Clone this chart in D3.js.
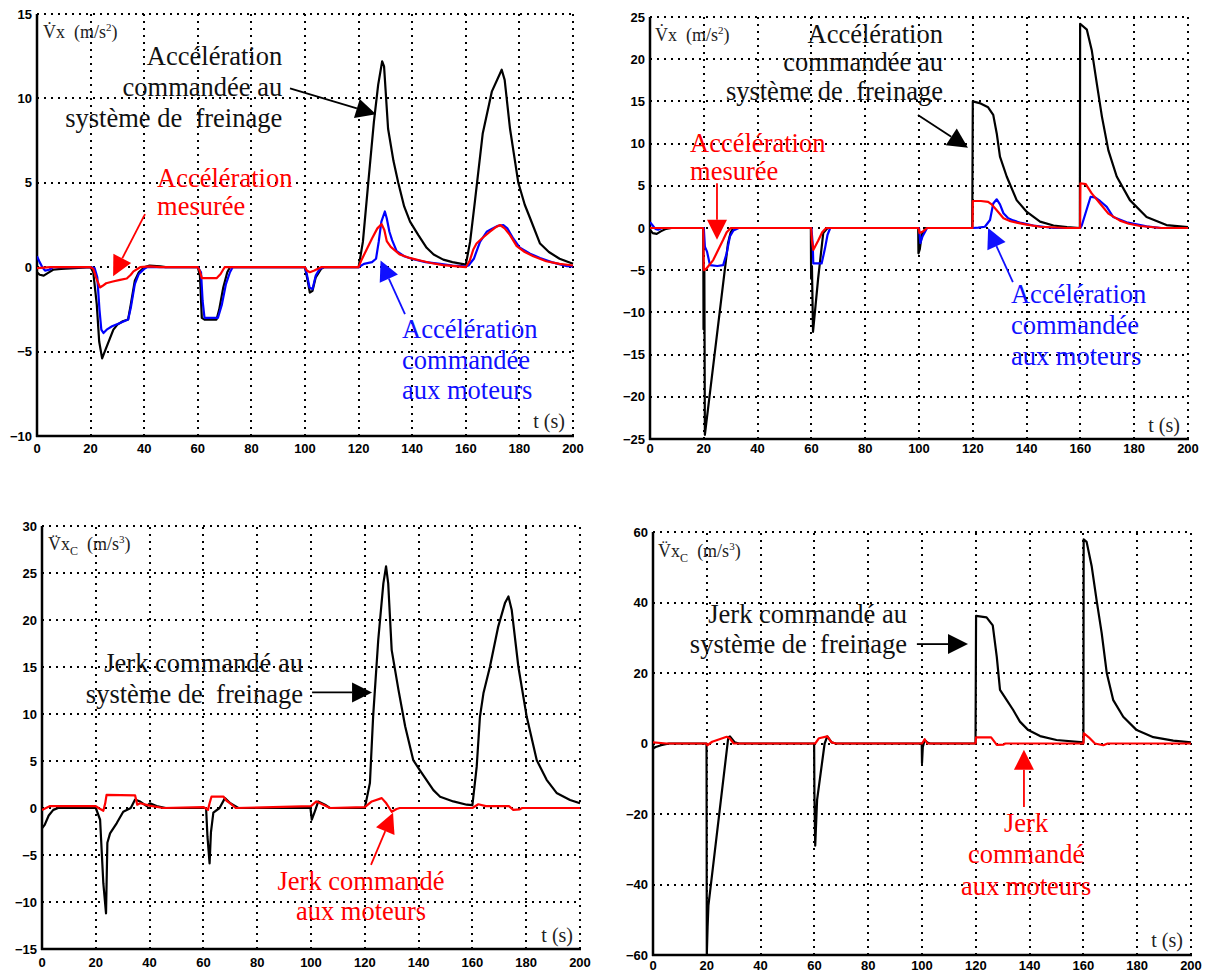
<!DOCTYPE html>
<html><head><meta charset="utf-8">
<script src="https://cdn.jsdelivr.net/npm/d3@7"></script>
<style>
body{margin:0;background:#fff} svg{display:block}
.serif{font-family:"Liberation Serif","Times New Roman","DejaVu Serif",serif;}
.tick{font-family:"Liberation Sans",Arial,"DejaVu Sans",sans-serif;font-weight:bold;font-size:13px;}
</style>
</head><body>
<svg id="c" width="1207" height="974"></svg>
<script>
// ---------------- DATA ----------------
const xTicks = [0,20,40,60,80,100,120,140,160,180,200];
const p1YTicks = [-10,-5,0,5,10,15];
const p2YTicks = [-25,-20,-15,-10,-5,0,5,10,15,20,25];
const p3YTicks = [-15,-10,-5,0,5,10,15,20,25,30];
const p4YTicks = [-60,-40,-20,0,20,40,60];

// Panel 1 : acceleration (m/s²)
const p1Black = [[0,-0.3],[1,-0.45],[2.5,-0.5],[4,-0.35],[6,-0.15],[9,-0.1],[14,-0.05],[20,0],[21,-0.3],[22.3,-2.2],[23.2,-4.4],[24.3,-5.4],[26,-4.7],[28.5,-3.7],[30,-3.4],[32,-3.2],[34,-3.1],[35,-2.2],[36.5,-0.8],[38,-0.3],[40,0],[42,0.1],[46,0.05],[48,0],[60,0],[60.8,-0.5],[61.5,-3.0],[62.5,-3.1],[67,-3.1],[68,-2.5],[69.5,-1.2],[71,-0.3],[72,0],[100,0],[101,-0.8],[101.8,-1.5],[102.8,-1.4],[104,-0.6],[106,-0.1],[107,0],[120,0],[121.6,1.5],[123.6,5],[125.7,8.6],[127.3,10.8],[128.8,12.2],[129.5,11.9],[131,8.2],[133,6.3],[134.8,5],[137,3.6],[139.2,2.7],[142.3,1.9],[145.4,1.15],[148,0.75],[151.6,0.45],[155,0.3],[160,0.15],[161.6,1.5],[163.4,3.9],[166.3,7.9],[169.7,10.4],[173.4,11.7],[174.5,11.1],[176.5,8.2],[179.6,5],[182,3.7],[184,2.9],[187.7,1.4],[191,0.9],[195,0.5],[200,0.2]];
const p1Blue = [[0,0.65],[1,0.3],[2,0],[3,-0.2],[4.5,-0.15],[6,0],[20,0],[21.5,-0.05],[22.5,-0.6],[23.3,-2.5],[24,-3.7],[24.8,-3.9],[26,-3.7],[28,-3.5],[31,-3.3],[34,-3.1],[35,-2.4],[36.5,-1.0],[38,-0.4],[40,-0.1],[41,0],[60,0],[61.2,-0.3],[61.8,-2],[62.5,-3.0],[67.5,-3.0],[69,-2.2],[70.5,-1.0],[72,-0.3],[73,0],[100,0],[100.8,-0.5],[101.7,-1.2],[102.8,-1.3],[104,-0.5],[105.5,-0.1],[107,0],[120,0],[122,0.2],[125,0.3],[126.5,0.5],[127.5,1.5],[128.5,2.7],[129.8,3.3],[130.5,2.9],[131.5,2.1],[132.5,1.6],[134.2,0.95],[137,0.65],[140.4,0.47],[145,0.3],[150.4,0.2],[155,0.1],[160,0.05],[161,0.1],[163,0.5],[165.3,1.5],[167.8,2.1],[170,2.3],[172,2.45],[174,2.5],[175.5,2.3],[177.7,1.7],[180.2,1.15],[184,0.8],[187.7,0.55],[192,0.3],[197.7,0.06],[200,0.05]];
const p1Red = [[0,-0.05],[5,0],[20,0],[21,-0.1],[22,-0.6],[23.5,-1.2],[24.5,-1.1],[25.8,-0.95],[28.3,-0.85],[31,-0.75],[33.5,-0.67],[35,-0.45],[36,-0.25],[38.5,0],[42,0.05],[46,0],[60,0],[60.7,-0.2],[61.5,-0.65],[67,-0.65],[68.5,-0.4],[70,0],[100,0],[100.7,-0.2],[101.8,-0.3],[103.5,-0.2],[106,0],[120,0],[121,0.4],[123,1.05],[125,1.7],[127,2.3],[128.6,2.55],[129.6,2.2],[130.5,1.55],[132,1.2],[135.4,0.75],[139,0.55],[143,0.4],[147,0.25],[151.5,0.12],[160,0],[161.5,0.4],[162.8,1.05],[164,1.4],[166,1.7],[169,2.1],[171,2.35],[172.8,2.5],[174.5,2.3],[176.5,1.9],[179,1.25],[182,0.9],[185.2,0.65],[190,0.35],[195,0.2],[200,0.1]];

// Panel 2 : acceleration (m/s²)
const p2Black = [[0,-0.2],[1,-0.6],[2.5,-0.7],[4,-0.4],[6,-0.1],[8,0],[19.8,0],[19.9,-12],[20.1,-12],[20.2,-5],[20.4,-24.5],[29,-1.8],[30,-0.5],[31,0],[59.8,0],[59.9,-6],[60.2,-4.5],[60.6,-12.3],[62.5,-6],[64.4,-0.6],[66,0],[99.7,0],[99.8,-3],[100.3,-2.5],[101,-0.8],[102.5,0],[119.8,0],[120,15],[122.5,14.8],[125.7,14.3],[127.6,13.4],[128.9,11.2],[130.1,8.45],[132.6,6.1],[136.3,3.3],[140.1,1.9],[145,0.75],[150,0.3],[155,0.1],[159.8,0],[159.9,24.2],[162.4,23.5],[164.2,21.1],[166.1,17.1],[168,13.2],[170.4,9.2],[173.5,6.1],[178.4,3.3],[184.6,1.3],[192,0.35],[200,0.1]];
const p2Blue = [[0,0.7],[1,0.3],[2,-0.1],[3,-0.2],[4.5,0],[20,0],[20.4,-2.2],[21.2,-2.8],[22.3,-4.4],[25,-4.5],[27.2,-4.4],[28.5,-3],[29.7,-1.0],[31,-0.3],[33,0],[60,0],[60.5,-2],[60.7,-4.2],[63.8,-4.2],[65,-2.5],[66,-0.8],[67,0],[100,0],[100.5,-1.8],[101.3,-1.0],[103,0],[120,0],[122,0.05],[124.5,0.15],[126.4,0.95],[127.6,2.9],[128.9,3.4],[130.1,2.8],[131.4,1.75],[133,1.2],[135,0.9],[138,0.6],[142.5,0.3],[150,0],[160,0],[160.5,0.3],[161.9,1.75],[163.8,3.7],[165.6,3.6],[167.3,3.2],[169.8,2.5],[172.2,1.3],[177.2,0.67],[184.6,0.2],[190,0],[200,0]];
const p2Red = [[0,0],[19.8,0],[19.9,-3],[20,-5],[21,-4.8],[23.5,-3.8],[27.2,-1.4],[28.5,-0.5],[30,0],[59.9,0],[60.2,-1.5],[60.7,-2.6],[62.5,-1.5],[64,-0.5],[65.5,0],[99.8,0],[100.2,-0.6],[101.5,-0.4],[103,0],[119.9,0],[120,3.2],[123,3.2],[125.7,3.1],[127,2.8],[128.9,2.1],[131.4,1.15],[134,0.8],[136.3,0.63],[140,0.4],[145,0.15],[155,0],[159.9,0],[160,5.3],[162,5.2],[164.2,4.1],[167.3,2.9],[170.4,1.7],[174.7,0.87],[178,0.5],[182.2,0.24],[190,0],[200,0]];

// Panel 3 : jerk (m/s³)
const p3Black = [[0,-2.15],[1,-1.8],[2.5,-0.8],[4.2,-0.2],[6,0],[20,0],[21.6,-1.25],[22.8,-8],[23.8,-11.2],[24.3,-3.7],[25.3,-2.7],[27.8,-1.6],[30.2,-0.4],[33,0],[34.6,0.9],[36.4,0.7],[38.9,0.2],[40.1,0.5],[42.6,0.2],[46,0],[61,0],[61.5,-3],[62.3,-5.9],[62.8,-2.6],[63.7,-0.5],[66,0],[68,1.05],[70,0.5],[73,0],[99.8,0],[100.3,-1.25],[101.5,-0.3],[102.7,0.7],[105.2,0.35],[107,0],[120,0],[121.9,2.65],[123.1,9.75],[125,17.9],[126.9,23.9],[127.9,25.7],[128.7,23.9],[130,16.8],[132.5,12.6],[135,8.7],[138,5.1],[140.5,4.0],[145.5,1.9],[148,1.2],[152.9,0.7],[157.9,0.35],[160,0.3],[161.6,4.4],[162.8,9.7],[164.1,12.2],[166.5,15],[169.6,19.3],[172.1,21.8],[173.4,22.5],[174.6,21.1],[177.1,15],[180.2,9.7],[183.9,5.1],[187.6,3.0],[191.3,1.6],[196.3,0.85],[200,0.5]];
const p3Red = [[0,-0.2],[1.5,0],[3,0.2],[20,0.2],[21,0],[22.8,-0.3],[23.5,0.5],[24,1.4],[34.6,1.35],[35.4,0.35],[36.5,0.5],[40,0.25],[45,0],[60,0.1],[61.7,-0.2],[62.3,0.5],[63,1.2],[67.5,1.2],[68.5,0.8],[70,0.5],[72,0],[100,0.2],[102,0.7],[105,0.3],[107,0],[120,0.1],[122.6,0.7],[126.3,1.05],[128,0.5],[130,-0.4],[131.8,-0.1],[133,0],[160,0],[162.2,0.4],[165,0.2],[173.6,0.2],[175.2,-0.2],[177.6,-0.15],[178.5,0],[200,0]];

// Panel 4 : jerk (m/s³)
const p4Black = [[0,-1.4],[1,-1.0],[3,-0.5],[6,0],[19.9,0],[20,-60],[20.3,-52],[20.6,-46],[28,1.8],[28.6,2],[30.4,0.3],[32,0],[59.9,0],[60,-14],[60.3,-29],[61,-16],[63.8,0],[64.8,2],[66.4,0.3],[68,0],[99.9,0],[100,-5.6],[100.3,-1],[101,1],[102,0.3],[103,0],[119.9,0],[120.1,36.2],[124,35.8],[126.3,33.5],[127.8,24.6],[129,15.2],[131.5,12.3],[133.9,9.5],[136.4,6.2],[139.5,3.8],[143.9,2.1],[150,1],[160,0.3],[160.1,57.9],[161.2,57.2],[163.1,50.2],[164.9,40.7],[166.8,31.3],[168.7,19.9],[171.1,12.3],[174.8,7.6],[179.8,3.8],[186,1.8],[193.4,0.8],[200,0.3]];
const p4Red = [[0,0.3],[5,0],[19.9,0],[20.2,-0.5],[22,0.5],[27.4,1.9],[28.5,1.5],[30,0],[60.3,0],[61.7,1.5],[64.8,2],[66.4,0.3],[68,0],[100,0],[101,1.2],[102,0],[119.9,0],[120.1,1.75],[125.7,1.75],[127.8,-0.4],[130.3,-0.3],[131,0],[160,0],[160.2,2.9],[162,1.75],[164.3,0],[167.4,-0.5],[169,0],[200,0]];

// Text labels
const accBrakeLines = ["Accélération","commandée au","système de\u00a0 freinage"];
const accMeasLines = ["Accélération","mesurée"];
const accMotorLines = ["Accélération","commandée","aux moteurs"];
const jerkBrakeLines = ["Jerk commandé au","système de\u00a0 freinage"];
const jerkMotor3Lines = ["Jerk commandé","aux moteurs"];
const jerkMotor4Lines = ["Jerk","commandé","aux moteurs"];

// ---------------- DRAW ----------------
const BLACK = "#000", RED = "#ff0000", BLUE = "#0000ff";
const svg = d3.select("#c");

const panels = [
  {box:{l:37,r:573,t:14,b:436}, yDomain:[-10,15], yTicks:p1YTicks, xLabDy:17,
   series:[[p1Black,BLACK],[p1Blue,BLUE],[p1Red,RED]], jerk:false, ylab:[2.2,13.57], tlab:[197,-9.54],
   notes:[
     {lines:accBrakeLines, color:"#111", anchor:"end", at:[91.5,12.0], lh:31, from:[94.4,10.6], to:[126.5,9.06]},
     {lines:accMeasLines, color:RED, anchor:"start", at:[44.8,4.74], lh:28, from:[40.3,3.14], to:[28.4,-0.53]},
     {lines:accMotorLines, color:"#1010ff", anchor:"start", at:[136.2,-4.2], lh:30.5, from:[137.3,-2.78], to:[128.2,0.4]}
   ]},
  {box:{l:650,r:1188,t:17,b:439}, yDomain:[-25,25], yTicks:p2YTicks, xLabDy:14,
   series:[[p2Black,BLACK],[p2Blue,BLUE],[p2Red,RED]], jerk:false, ylab:[1.9,22.2], tlab:[197,-24.2],
   notes:[
     {lines:accBrakeLines, color:"#111", anchor:"end", at:[108.9,21.9], lh:28.3, from:[99.6,13.4], to:[118.2,9.5]},
     {lines:accMeasLines, color:RED, anchor:"start", at:[14.9,9.0], lh:28, from:[24.9,5.3], to:[24.9,-1.4]},
     {lines:accMotorLines, color:"#1010ff", anchor:"start", at:[134.2,-8.9], lh:31, from:[134.9,-6.4], to:[125.7,0]}
   ]},
  {box:{l:42,r:580,t:526,b:949}, yDomain:[-15,30], yTicks:p3YTicks, xLabDy:18,
   series:[[p3Black,BLACK],[p3Red,RED]], jerk:true, ylab:[2.2,27.4], tlab:[197.4,-14.3],
   notes:[
     {lines:jerkBrakeLines, color:"#111", anchor:"end", at:[97,14.5], lh:31, from:[100.4,12.3], to:[122.7,12.3]},
     {lines:jerkMotor3Lines, color:RED, anchor:"middle", at:[118.6,-8.7], lh:30, from:[122.3,-6.06], to:[130.5,-0.5]}
   ]},
  {box:{l:653,r:1191,t:532,b:955}, yDomain:[-60,60], yTicks:p4YTicks, xLabDy:15,
   series:[[p4Black,BLACK],[p4Red,RED]], jerk:true, ylab:[1.9,52.9], tlab:[197,-57.7],
   notes:[
     {lines:jerkBrakeLines, color:"#111", anchor:"end", at:[94.4,34.2], lh:30, from:[98.1,28.2], to:[117.1,28.2]},
     {lines:jerkMotor4Lines, color:RED, anchor:"middle", at:[138.7,-25.1], lh:31.5, from:[137.9,-18], to:[137.9,-1.8]}
   ]}
];

const fmt = v => v < 0 ? "\u2212" + Math.abs(v) : String(v);

panels.forEach((p, i) => {
  const b = p.box;
  const x = d3.scaleLinear().domain([0,200]).range([b.l, b.r]);
  const y = d3.scaleLinear().domain(p.yDomain).range([b.b, b.t]);
  const g = svg.append("g");

  g.append("clipPath").attr("id","clip"+i).append("rect")
    .attr("x",b.l).attr("y",b.t-1).attr("width",b.r-b.l+1).attr("height",b.b-b.t+2);

  // dotted grid (snapped to whole pixels for crisp dots)
  const grid = g.append("g").attr("stroke","#000").attr("stroke-width",2)
    .attr("stroke-dasharray","2,5").attr("shape-rendering","crispEdges");
  xTicks.filter(t => t !== 0).forEach(t => {
    const xx = Math.round(x(t));
    grid.append("line").attr("x1",xx).attr("x2",xx).attr("y1",b.b).attr("y2",b.t);
  });
  p.yTicks.filter(v => v !== p.yDomain[0]).forEach(v => {
    const yy = Math.round(y(v));
    grid.append("line").attr("x1",b.l).attr("x2",b.r).attr("y1",yy).attr("y2",yy);
  });

  // solid left & bottom axes
  g.append("line").attr("x1",b.l).attr("x2",b.l).attr("y1",b.t).attr("y2",b.b+1)
    .attr("stroke","#000").attr("stroke-width",2.5);
  g.append("line").attr("x1",b.l-1).attr("x2",b.r+1).attr("y1",b.b).attr("y2",b.b)
    .attr("stroke","#000").attr("stroke-width",2.5);

  // tick labels
  g.append("g").selectAll("text").data(p.yTicks).join("text").attr("class","tick")
    .attr("x", b.l - 5).attr("y", d => y(d) + 4.5)
    .attr("text-anchor","end").text(fmt);
  g.append("g").selectAll("text").data(xTicks).join("text").attr("class","tick")
    .attr("x", d => x(d)).attr("y", b.b + p.xLabDy)
    .attr("text-anchor","middle").text(fmt);

  // series
  const line = d3.line().x(d => x(d[0])).y(d => y(d[1]));
  const sg = g.append("g").attr("clip-path","url(#clip"+i+")");
  p.series.forEach(([data, col]) => {
    sg.append("path").datum(data).attr("d", line).attr("fill","none")
      .attr("stroke", col).attr("stroke-width", 2.2).attr("stroke-linejoin","round");
  });

  // y label
  const yl = g.append("text").attr("class","serif").attr("x", x(p.ylab[0])).attr("y", y(p.ylab[1]))
    .style("font-size","18px").attr("fill","#222");
  if (!p.jerk) {
    yl.append("tspan").text("V\u0307x\u00a0 (m/s");
    yl.append("tspan").style("font-size","11px").attr("dy",-7).text("2");
    yl.append("tspan").attr("dy",7).text(")");
  } else {
    yl.append("tspan").text("V\u0308x");
    yl.append("tspan").style("font-size","12px").attr("dy",5).text("C");
    yl.append("tspan").attr("dy",-5).text("\u00a0 (m/s");
    yl.append("tspan").style("font-size","11px").attr("dy",-7).text("3");
    yl.append("tspan").attr("dy",7).text(")");
  }

  // t label
  g.append("text").attr("class","serif").attr("x", x(p.tlab[0])).attr("y", y(p.tlab[1]))
    .attr("text-anchor","end").style("font-size","20px")
    .attr("fill","#222").text("t (s)");

  // annotations
  p.notes.forEach(n => {
    const t = g.append("text").attr("class","serif").style("font-size","26.5px")
      .attr("fill", n.color).attr("text-anchor", n.anchor);
    n.lines.forEach((ln, k) => {
      t.append("tspan").attr("x", x(n.at[0])).attr("y", y(n.at[1]) + k*n.lh).text(ln);
    });
    const x1 = x(n.from[0]), y1 = y(n.from[1]), x2 = x(n.to[0]), y2 = y(n.to[1]);
    const ang = Math.atan2(y2-y1, x2-x1);
    const hl = 20, hw = 10;
    const bx = x2 - hl*Math.cos(ang), by = y2 - hl*Math.sin(ang);
    const arrowCol = n.color === "#111" ? "#000" : n.color;
    g.append("line").attr("x1",x1).attr("y1",y1).attr("x2",bx).attr("y2",by)
      .attr("stroke",arrowCol).attr("stroke-width",1.8);
    const px = -Math.sin(ang), py = Math.cos(ang);
    g.append("path").attr("d", `M${x2},${y2}L${bx+hw*px},${by+hw*py}L${bx-hw*px},${by-hw*py}Z`)
      .attr("fill", arrowCol);
  });
});
</script>
</body></html>
